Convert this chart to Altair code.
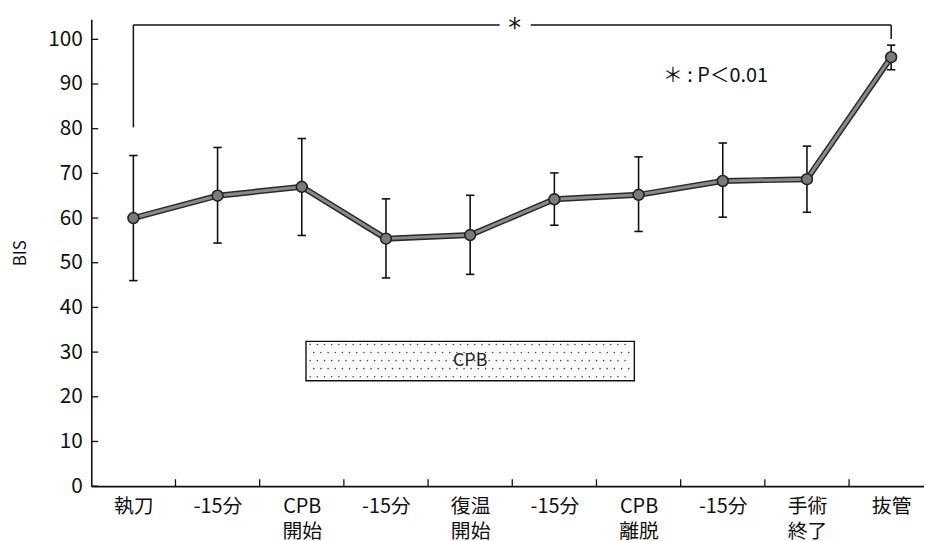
import altair as alt
import pandas as pd
import numpy as np

# ---- data ----
labels = ["執刀", "-15分", "CPB\n開始", "-15分", "復温\n開始", "-15分", "CPB\n離脱", "-15分", "手術\n終了", "抜管"]
means = [60.0, 65.0, 67.0, 55.4, 56.2, 64.2, 65.2, 68.3, 68.7, 96.0]
upper = [74.0, 75.8, 77.8, 64.3, 65.1, 70.1, 73.7, 76.8, 76.1, 98.7]
lower = [46.0, 54.4, 56.1, 46.6, 47.4, 58.4, 57.0, 60.2, 61.3, 93.2]
y_ticks = [0, 10, 20, 30, 40, 50, 60, 70, 80, 90, 100]

cpb_box = {"x0": 2.05, "x1": 5.95, "y0": 23.6, "y1": 32.4, "label": "CPB"}
bracket = {"left": 0, "right": 9, "top": 103.2, "left_bottom": 80.3, "right_bottom": 100.1,
           "gap0": 4.35, "gap1": 4.72, "star_x": 4.53}
note = {"x": 6.29, "y": 91.8, "text": "＊ : P＜0.01"}

FONT = "Noto Sans CJK JP"
W, H = 840, 471
XDOM = [-0.5, 9.39]
YDOM = [0, 104.5]

df = pd.DataFrame({"i": list(range(len(labels))), "label": labels,
                   "mean": means, "upper": upper, "lower": lower})

xs = alt.Scale(domain=XDOM, nice=False, zero=False)
ys = alt.Scale(domain=YDOM, nice=False, zero=False)

label_expr = "split(" + "[" + ",".join("'" + l.replace("\n", "|") + "'" for l in labels) + "][datum.value], '|')"

base = alt.Chart(df)

axis_layer = base.mark_point(opacity=0).encode(
    x=alt.X("i:Q", scale=xs, title=None,
            axis=alt.Axis(values=list(range(10)), ticks=False, grid=False, domainColor="#111",
                          domainWidth=1.6, labelExpr=label_expr, labelFont=FONT, labelFontSize=20,
                          labelColor="#111", labelPadding=11, labelLineHeight=25, labelFlush=False,
                          labelOverlap=False)),
    y=alt.Y("mean:Q", scale=ys, title="BIS",
            axis=alt.Axis(values=y_ticks, ticks=False, grid=False, domainColor="#111", domainWidth=1.6,
                          labelFont=FONT, labelFontSize=21, labelColor="#111", labelPadding=9,
                          titleFont=FONT, titleFontSize=17, titleFontWeight="normal", titleColor="#111",
                          titlePadding=18)),
)

# inward ticks
ytick_df = pd.DataFrame({"v": y_ticks})
yticks = alt.Chart(ytick_df).mark_rule(color="#111", strokeWidth=1.3).encode(
    y=alt.Y("v:Q", scale=ys), x=alt.value(0), x2=alt.value(7))
xtick_df = pd.DataFrame({"v": [k + 0.5 for k in range(9)]})
xticks = alt.Chart(xtick_df).mark_rule(color="#111", strokeWidth=1.3).encode(
    x=alt.X("v:Q", scale=xs), y=alt.value(H), y2=alt.value(H - 7))

# error bars
err = base.mark_rule(color="#111", strokeWidth=1.6).encode(
    x=alt.X("i:Q", scale=xs), y=alt.Y("lower:Q", scale=ys), y2="upper:Q")
caps_df = pd.concat([df.assign(v=df["upper"]), df.assign(v=df["lower"])])
caps = alt.Chart(caps_df).transform_calculate(
    a="datum.i - 0.05", b="datum.i + 0.05").mark_rule(color="#111", strokeWidth=1.6).encode(
    x=alt.X("a:Q", scale=xs), x2="b:Q", y=alt.Y("v:Q", scale=ys))

line_dark = base.mark_line(color="#2a2a2a", strokeWidth=6).encode(
    x=alt.X("i:Q", scale=xs), y=alt.Y("mean:Q", scale=ys))
line_light = base.mark_line(color="#8a8a8a", strokeWidth=3).encode(
    x=alt.X("i:Q", scale=xs), y=alt.Y("mean:Q", scale=ys))
pts = base.mark_point(filled=True, fill="#7a7a7a", stroke="#222", strokeWidth=1.6, size=120, opacity=1).encode(
    x=alt.X("i:Q", scale=xs), y=alt.Y("mean:Q", scale=ys))

# CPB box with dotted fill
box_df = pd.DataFrame([cpb_box])
box = alt.Chart(box_df).mark_rect(fill="#fafafa", stroke="#111", strokeWidth=1.4).encode(
    x=alt.X("x0:Q", scale=xs), x2="x1:Q", y=alt.Y("y0:Q", scale=ys), y2="y1:Q")
dx, dy = 0.085, 1.8
dots = []
r = 0
yy = cpb_box["y0"] + 0.9
while yy < cpb_box["y1"] - 0.5:
    xx = cpb_box["x0"] + 0.05 + (dx / 2 if r % 2 else 0)
    while xx < cpb_box["x1"] - 0.03:
        dots.append({"dx": xx, "dy": yy})
        xx += dx
    yy += dy
    r += 1
dots_df = pd.DataFrame(dots)
dot_layer = alt.Chart(dots_df).mark_circle(size=2.5, color="#444", opacity=1).encode(
    x=alt.X("dx:Q", scale=xs), y=alt.Y("dy:Q", scale=ys))
box_text = alt.Chart(box_df).transform_calculate(
    cx="(datum.x0 + datum.x1) / 2", cy="(datum.y0 + datum.y1) / 2").mark_text(
    font=FONT, fontSize=18, color="#222", baseline="middle", align="center").encode(
    x=alt.X("cx:Q", scale=xs), y=alt.Y("cy:Q", scale=ys), text="label:N")

# significance bracket
b = bracket
br_df = pd.DataFrame([
    {"x": b["left"], "x2": b["left"], "y": b["left_bottom"], "y2": b["top"]},
    {"x": b["left"], "x2": b["gap0"], "y": b["top"], "y2": b["top"]},
    {"x": b["gap1"], "x2": b["right"], "y": b["top"], "y2": b["top"]},
    {"x": b["right"], "x2": b["right"], "y": b["right_bottom"], "y2": b["top"]},
])
br = alt.Chart(br_df).mark_rule(color="#111", strokeWidth=1.5).encode(
    x=alt.X("x:Q", scale=xs), x2="x2:Q", y=alt.Y("y:Q", scale=ys), y2="y2:Q")
star = alt.Chart(pd.DataFrame([{"x": b["star_x"], "y": b["top"], "t": "*"}])).mark_text(
    font="DejaVu Sans", fontSize=26, color="#111", baseline="middle", align="center", dy=4).encode(
    x=alt.X("x:Q", scale=xs), y=alt.Y("y:Q", scale=ys), text="t:N")
note_layer = alt.Chart(pd.DataFrame([note])).mark_text(
    font=FONT, fontSize=20, color="#111", baseline="middle", align="left").encode(
    x=alt.X("x:Q", scale=xs), y=alt.Y("y:Q", scale=ys), text="text:N")

chart = alt.layer(axis_layer, yticks, xticks, box, dot_layer, box_text, err, caps,
                  line_dark, line_light, pts, br, star, note_layer).properties(
    width=W, height=H, autosize="none",
    padding={"left": 84, "top": 9, "right": 0, "bottom": 53},
    background="white",
).configure_view(stroke=None)

chart.save("out.html", embed_options={"renderer": "svg", "actions": False})
